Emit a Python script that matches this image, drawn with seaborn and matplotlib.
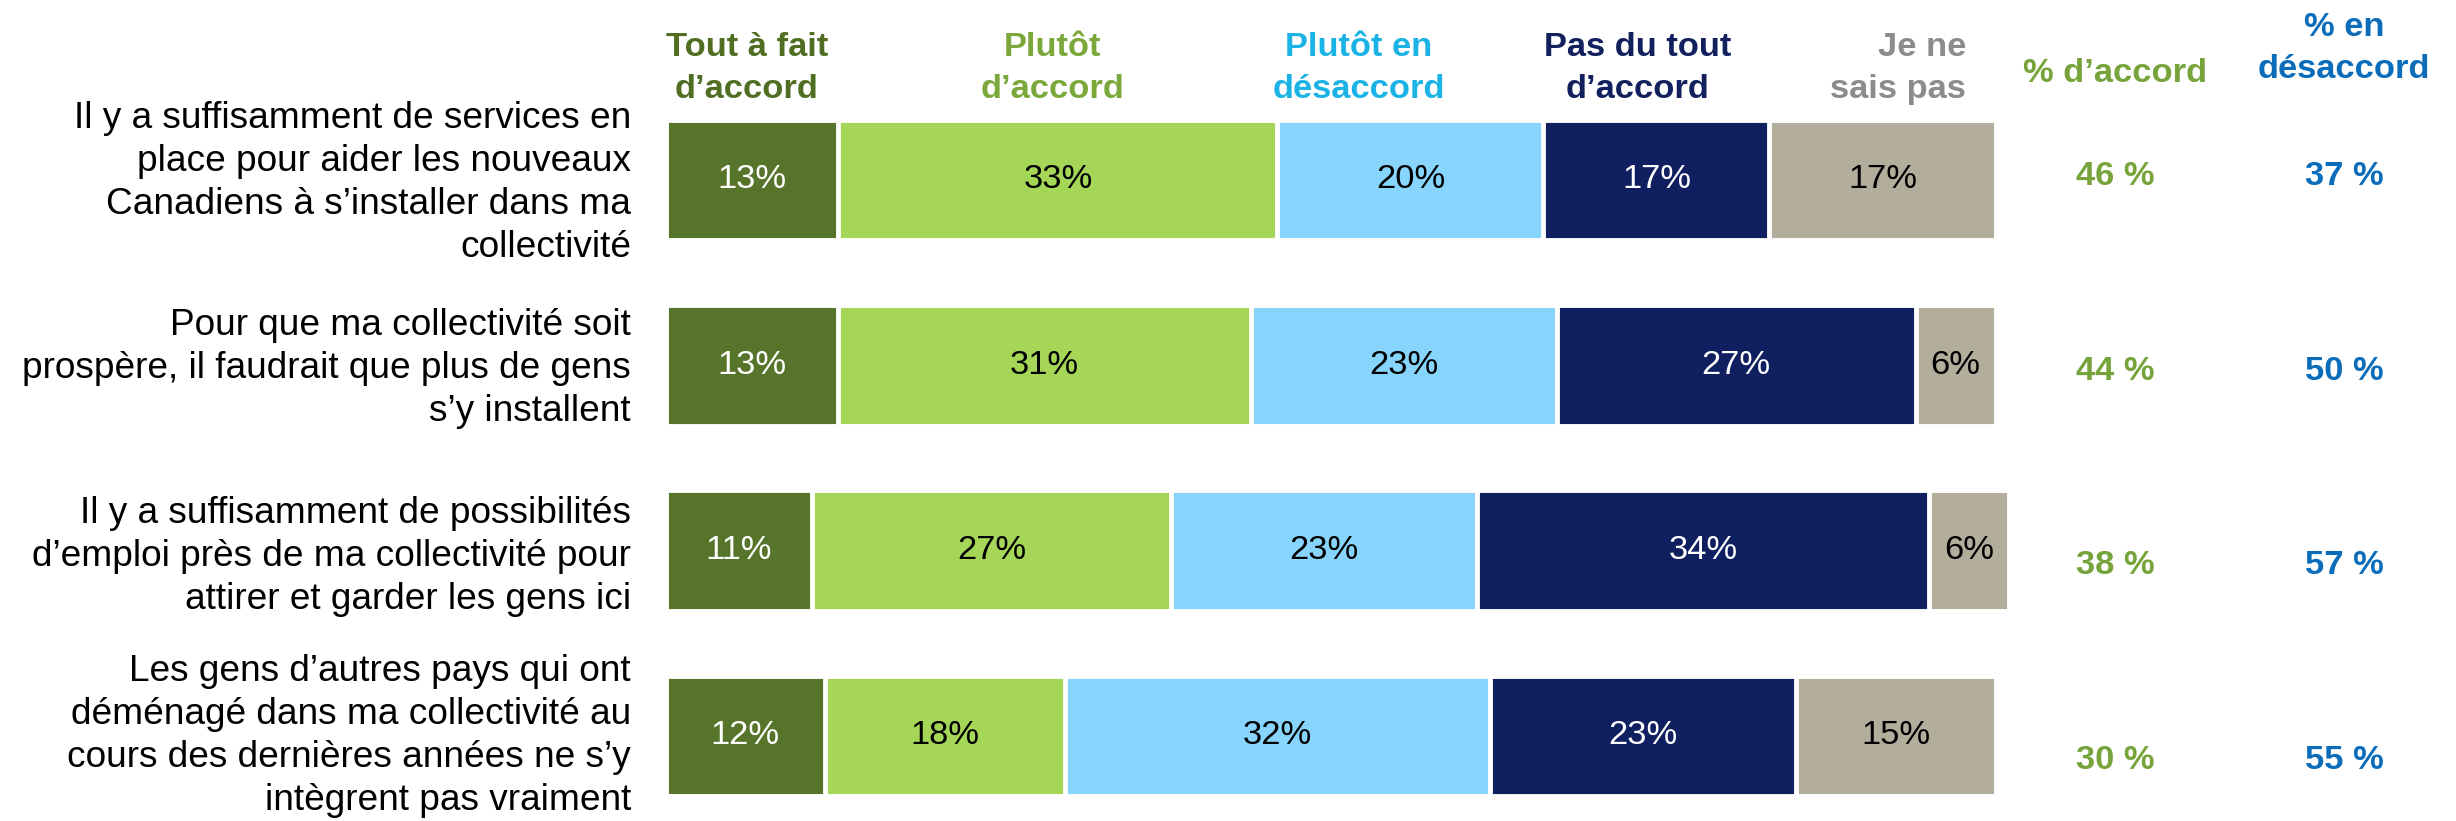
import numpy as np
import pandas as pd
import matplotlib
matplotlib.use("Agg")
import matplotlib.pyplot as plt
import seaborn as sns
from matplotlib import font_manager

# ---------------- data ----------------
statements = [
    "Il y a suffisamment de services en\nplace pour aider les nouveaux\nCanadiens à s’installer dans ma\ncollectivité",
    "Pour que ma collectivité soit\nprospère, il faudrait que plus de gens\ns’y installent",
    "Il y a suffisamment de possibilités\nd’emploi près de ma collectivité pour\nattirer et garder les gens ici",
    "Les gens d’autres pays qui ont\ndéménagé dans ma collectivité au\ncours des dernières années ne s’y\nintègrent pas vraiment",
]
response_labels = ["Tout à fait\nd’accord", "Plutôt\nd’accord", "Plutôt en\ndésaccord",
                   "Pas du tout\nd’accord", "Je ne\nsais pas"]
tout_a_fait = [13, 13, 11, 12]
plutot_accord = [33, 31, 27, 18]
plutot_desaccord = [20, 23, 23, 32]
pas_du_tout = [17, 27, 34, 23]
ne_sais_pas = [17, 6, 6, 15]
pct_accord = ["46 %", "44 %", "38 %", "30 %"]
pct_desaccord = ["37 %", "50 %", "57 %", "55 %"]

seg_colors = ["#56742A", "#A5D658", "#87D4FD", "#0F1F5F", "#B3AD9C"]
txt_colors = ["white", "black", "black", "white", "black"]
head_colors = ["#4F6E22", "#7BA83A", "#1BB3E6", "#12205E", "#8C8C8C"]
accord_color = "#76A33A"
desaccord_color = "#0B6DBA"

# ---------------- style ----------------
sns.set_theme(style="white")
names = {f.name for f in font_manager.fontManager.ttflist}
if "Liberation Sans Narrow" in names:
    FAM = ["Liberation Sans Narrow", "Liberation Sans", "DejaVu Sans"]
    lab_scale, val_scale = 1.0, 1.0
else:
    FAM = ["Liberation Sans", "DejaVu Sans"]
    lab_scale, val_scale = 0.86, 0.80
plt.rcParams["font.family"] = FAM

W, H = 24.56, 8.21
fig = plt.figure(figsize=(W, H), dpi=100)
ax = fig.add_axes([0.271, 0.0, 1330 * 1.02 / 2456, 1.0])

segments = [tout_a_fait, plutot_accord, plutot_desaccord, pas_du_tout, ne_sais_pas]
data = np.array(segments, dtype=float)  # shape (5, 4)
cum = np.cumsum(data, axis=0)
df = pd.DataFrame({"statement": statements})
for k in range(len(segments)):
    df[f"cum{k}"] = cum[k]

# draw cumulative bars from longest to shortest
for k in reversed(range(len(segments))):
    sns.barplot(data=df, x=f"cum{k}", y="statement", color=seg_colors[k], orient="h",
                width=0.65, edgecolor="white", linewidth=3.5, saturation=1, ax=ax)

ax.set_xlim(0, 102)
ax.set_ylim(3.459, -0.971)
ax.axis("off")

val_fs = 31 * val_scale
for k in range(len(segments)):
    for i in range(len(statements)):
        v = data[k, i]
        left = cum[k, i] - v
        ax.text(left + v / 2, i, f"{int(v)}%", ha="center", va="center",
                color=txt_colors[k], fontsize=val_fs)

# statement labels
lab_fs = 31 * lab_scale
lab_dy = [0.016, 0.016, 0.03, 0.0]
for i, s in enumerate(statements):
    ax.text(-2.6, i + lab_dy[i], s, ha="right", va="center", multialignment="right",
            fontsize=lab_fs, color="black", linespacing=1.3)

# column headers
hx = [6.1, 29.1, 52.1, 73.1]
for k in range(4):
    ax.text(hx[k], -0.603, response_labels[k], ha="center", va="center",
            multialignment="center", fontsize=val_fs, fontweight="bold",
            color=head_colors[k], linespacing=1.45)
ax.text(97.8, -0.603, response_labels[4], ha="right", va="center",
        multialignment="right", fontsize=val_fs, fontweight="bold",
        color=head_colors[4], linespacing=1.45)

ax.text(109, -0.575, "% d’accord", ha="center", va="center", fontsize=val_fs,
        fontweight="bold", color=accord_color)
ax.text(126.2, -0.71, "% en\ndésaccord", ha="center", va="center",
        multialignment="center", fontsize=val_fs, fontweight="bold",
        color=desaccord_color, linespacing=1.45)

pct_y = [-0.017, 1.035, 2.082, 3.135]
for i in range(len(statements)):
    ax.text(109, pct_y[i], pct_accord[i], ha="center", va="center", fontsize=val_fs,
            fontweight="bold", color=accord_color)
    ax.text(126.2, pct_y[i], pct_desaccord[i], ha="center", va="center", fontsize=val_fs,
            fontweight="bold", color=desaccord_color)

fig.savefig("out.png", dpi=100)
